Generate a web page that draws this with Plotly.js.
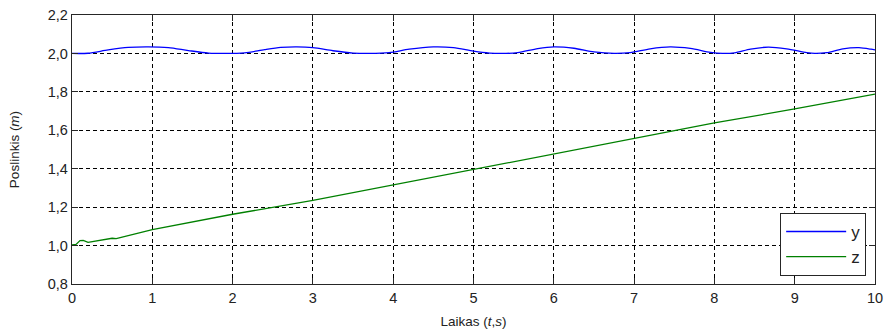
<!DOCTYPE html>
<html>
<head>
<meta charset="utf-8">
<script src="https://cdn.plot.ly/plotly-3.0.1.min.js"></script>
<style>html,body{margin:0;padding:0;background:#fff;}#chart{width:889px;height:331px;}</style>
</head>
<body>
<div id="chart"></div>
<script>
// y(t) — blue series
const tY = [0, 0.2, 0.45, 0.7, 0.95, 1.2, 1.45, 1.7, 1.9, 2.15, 2.4, 2.6, 2.8, 3.0, 3.25, 3.5, 3.7, 3.95, 4.2, 4.5, 4.75, 5.0, 5.2, 5.35, 5.55, 5.8, 6.0, 6.25, 6.5, 6.75, 6.95, 7.2, 7.45, 7.7, 7.95, 8.1, 8.25, 8.45, 8.67, 8.9, 9.15, 9.25, 9.4, 9.6, 9.8, 9.95, 10];
const yVals = [2.000, 2.001, 2.018, 2.031, 2.034, 2.030, 2.015, 2.002, 2.000, 2.003, 2.020, 2.031, 2.034, 2.030, 2.014, 2.002, 2.000, 2.004, 2.022, 2.034, 2.030, 2.012, 2.002, 2.000, 2.004, 2.025, 2.034, 2.027, 2.008, 2.000, 2.004, 2.024, 2.034, 2.026, 2.006, 2.000, 2.003, 2.022, 2.033, 2.024, 2.004, 2.000, 2.004, 2.024, 2.030, 2.022, 2.018];
// z(t) — green series
const tZ = [0, 0.05, 0.1, 0.14, 0.2, 0.25, 0.32, 0.4, 0.45, 0.5, 0.55, 0.62, 0.7, 0.8, 0.9, 1, 2, 3, 4, 5, 6, 7, 8, 9, 10];
const zVals = [1.003, 1.006, 1.026, 1.027, 1.017, 1.021, 1.026, 1.030, 1.034, 1.038, 1.036, 1.043, 1.049, 1.061, 1.072, 1.083, 1.163, 1.235, 1.315, 1.397, 1.475, 1.555, 1.638, 1.711, 1.788];
const xTicks = [0,1,2,3,4,5,6,7,8,9,10];
const yTicks = [0.8,1.0,1.2,1.4,1.6,1.8,2.0,2.2];

const family = 'Liberation Sans, Arial, sans-serif';
const tickFont = {family: family, size: 14.5, color: '#222'};
const titleFont = {family: family, size: 13.5, color: '#222'};
const traces = [
  {x: tY, y: yVals, name: 'y', mode: 'lines', line: {color: '#0000ff', width: 1.3, shape: 'spline', smoothing: 0.8}},
  {x: tZ, y: zVals, name: 'z', mode: 'lines', line: {color: '#008000', width: 1.3}}
];
const axisCommon = {
  showline: true, linecolor: '#262626', linewidth: 1.3, mirror: 'ticks',
  ticks: 'inside', ticklen: 6, tickcolor: '#262626', tickwidth: 1,
  showgrid: true, gridcolor: '#000', gridwidth: 1, griddash: '4px,3px',
  zeroline: false, tickfont: tickFont
};
const layout = {
  width: 889, height: 331,
  margin: {l: 72, r: 14, t: 15, b: 47},
  paper_bgcolor: '#fff', plot_bgcolor: '#fff',
  separators: ',.',
  font: titleFont,
  showlegend: true,
  legend: {x: 0.989, y: 0.03, xanchor: 'right', yanchor: 'bottom', bgcolor: '#fff', bordercolor: '#262626', borderwidth: 1, font: {family: family, size: 17, color: '#222'}, itemwidth: 60},
  xaxis: Object.assign({}, axisCommon, {range: [0, 10], tickvals: xTicks, ticktext: xTicks.map(String),
    title: {text: 'Laikas (<i>t</i>,<i>s</i>)', font: titleFont, standoff: 11}}),
  yaxis: Object.assign({}, axisCommon, {range: [0.8, 2.2], tickvals: yTicks, tickformat: '.1f',
    title: {text: 'Poslinkis (<i>m</i>)', font: titleFont, standoff: 25}})
};
Plotly.newPlot('chart', traces, layout, {staticPlot: true, displayModeBar: false});
</script>
</body>
</html>
